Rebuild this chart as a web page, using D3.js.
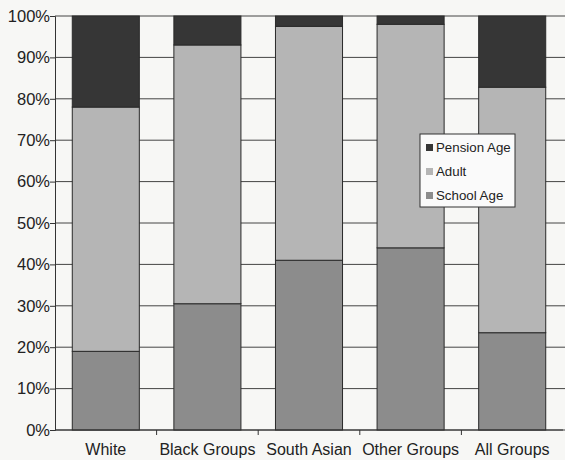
<!DOCTYPE html>
<meta charset="utf-8">
<script src="https://d3js.org/d3.v7.min.js"></script>
<style>
  body { margin: 0; background: #f7f7f5; }
  text { font-family: "Liberation Sans", Arial, sans-serif; fill: #222; }
</style>
<div id="chart"></div>
<script>
// data (percent of each group)
var groups = ["White", "Black Groups", "South Asian", "Other Groups", "All Groups"];
var schoolAge = [19, 30.5, 41, 44, 23.5];
var adult = [59, 62.5, 56.5, 54, 59.3];
var pensionAge = [22, 7, 2.5, 2, 17.2];
var seriesNames = ["School Age", "Adult", "Pension Age"];
var yTicks = [0, 10, 20, 30, 40, 50, 60, 70, 80, 90, 100];

var colors = {"School Age": "#8c8c8c", "Adult": "#b5b5b5", "Pension Age": "#363636"};

var margin = {top: 16, right: 2, bottom: 30, left: 55},
    width = 565 - margin.left - margin.right,
    height = 460 - margin.top - margin.bottom;

var svg = d3.select("#chart")
  .append("svg")
    .attr("width", 565)
    .attr("height", 460)
  .append("g")
    .attr("transform", "translate(" + margin.left + "," + margin.top + ")");

var rows = groups.map(function(g, i) {
  return {group: g, "School Age": schoolAge[i], "Adult": adult[i], "Pension Age": pensionAge[i]};
});
var stacked = d3.stack().keys(seriesNames)(rows);

var x = d3.scaleBand().domain(groups).range([0, width]).paddingInner(0.34).paddingOuter(0.17);
var y = d3.scaleLinear().domain([0, 100]).range([height, 0]);

// horizontal gridlines
svg.append("g")
  .selectAll("line")
  .data(yTicks)
  .enter().append("line")
    .attr("x1", 0)
    .attr("x2", width + 2)
    .attr("y1", function(d) { return y(d); })
    .attr("y2", function(d) { return y(d); })
    .attr("stroke", "#444")
    .attr("stroke-width", 1);

// stacked bars
svg.append("g")
  .selectAll("g")
  .data(stacked)
  .enter().append("g")
    .attr("fill", function(d) { return colors[d.key]; })
  .selectAll("rect")
  .data(function(d) { return d; })
  .enter().append("rect")
    .attr("x", function(d) { return x(d.data.group); })
    .attr("y", function(d) { return y(Math.min(d[1], 100)); })
    .attr("width", x.bandwidth())
    .attr("height", function(d) { return y(d[0]) - y(Math.min(d[1], 100)); })
    .attr("stroke", "#2a2a2a")
    .attr("stroke-width", 1);

// Y axis
var yAxis = svg.append("g")
  .call(d3.axisLeft(y).tickValues(yTicks).tickSize(5).tickFormat(function(d) { return d + "%"; }));
yAxis.select(".domain").attr("stroke", "#333");
yAxis.selectAll("line").attr("stroke", "#333");
yAxis.selectAll("text").style("font-size", "16.5px").attr("x", -5);

// X axis, ticks sit between categories
var xAxis = svg.append("g")
  .attr("transform", "translate(0," + height + ")");
xAxis.append("line")
  .attr("x1", 0).attr("x2", width)
  .attr("stroke", "#333");
var step = x.step();
xAxis.selectAll(".sep")
  .data(groups.slice(1))
  .enter().append("line")
    .attr("x1", function(d) { return x(d) - (x.paddingInner() * step) / 2; })
    .attr("x2", function(d) { return x(d) - (x.paddingInner() * step) / 2; })
    .attr("y1", 0).attr("y2", 5)
    .attr("stroke", "#333");
xAxis.selectAll(".lab")
  .data(groups)
  .enter().append("text")
    .attr("x", function(d) { return x(d) + x.bandwidth() / 2; })
    .attr("y", 25)
    .attr("text-anchor", "middle")
    .style("font-size", "16px")
    .text(function(d) { return d; });

// legend
var legend = svg.append("g")
  .attr("transform", "translate(" + (420 - margin.left) + "," + (134 - margin.top) + ")");
legend.append("rect")
  .attr("width", 95).attr("height", 73)
  .attr("fill", "#fafafa")
  .attr("stroke", "#333");
seriesNames.slice().reverse().forEach(function(name, i) {
  legend.append("rect")
    .attr("x", 6).attr("y", 10 + i * 24)
    .attr("width", 7).attr("height", 7)
    .attr("fill", colors[name]);
  legend.append("text")
    .attr("x", 16).attr("y", 18 + i * 24)
    .style("font-size", "13.3px")
    .text(name);
});
</script>
